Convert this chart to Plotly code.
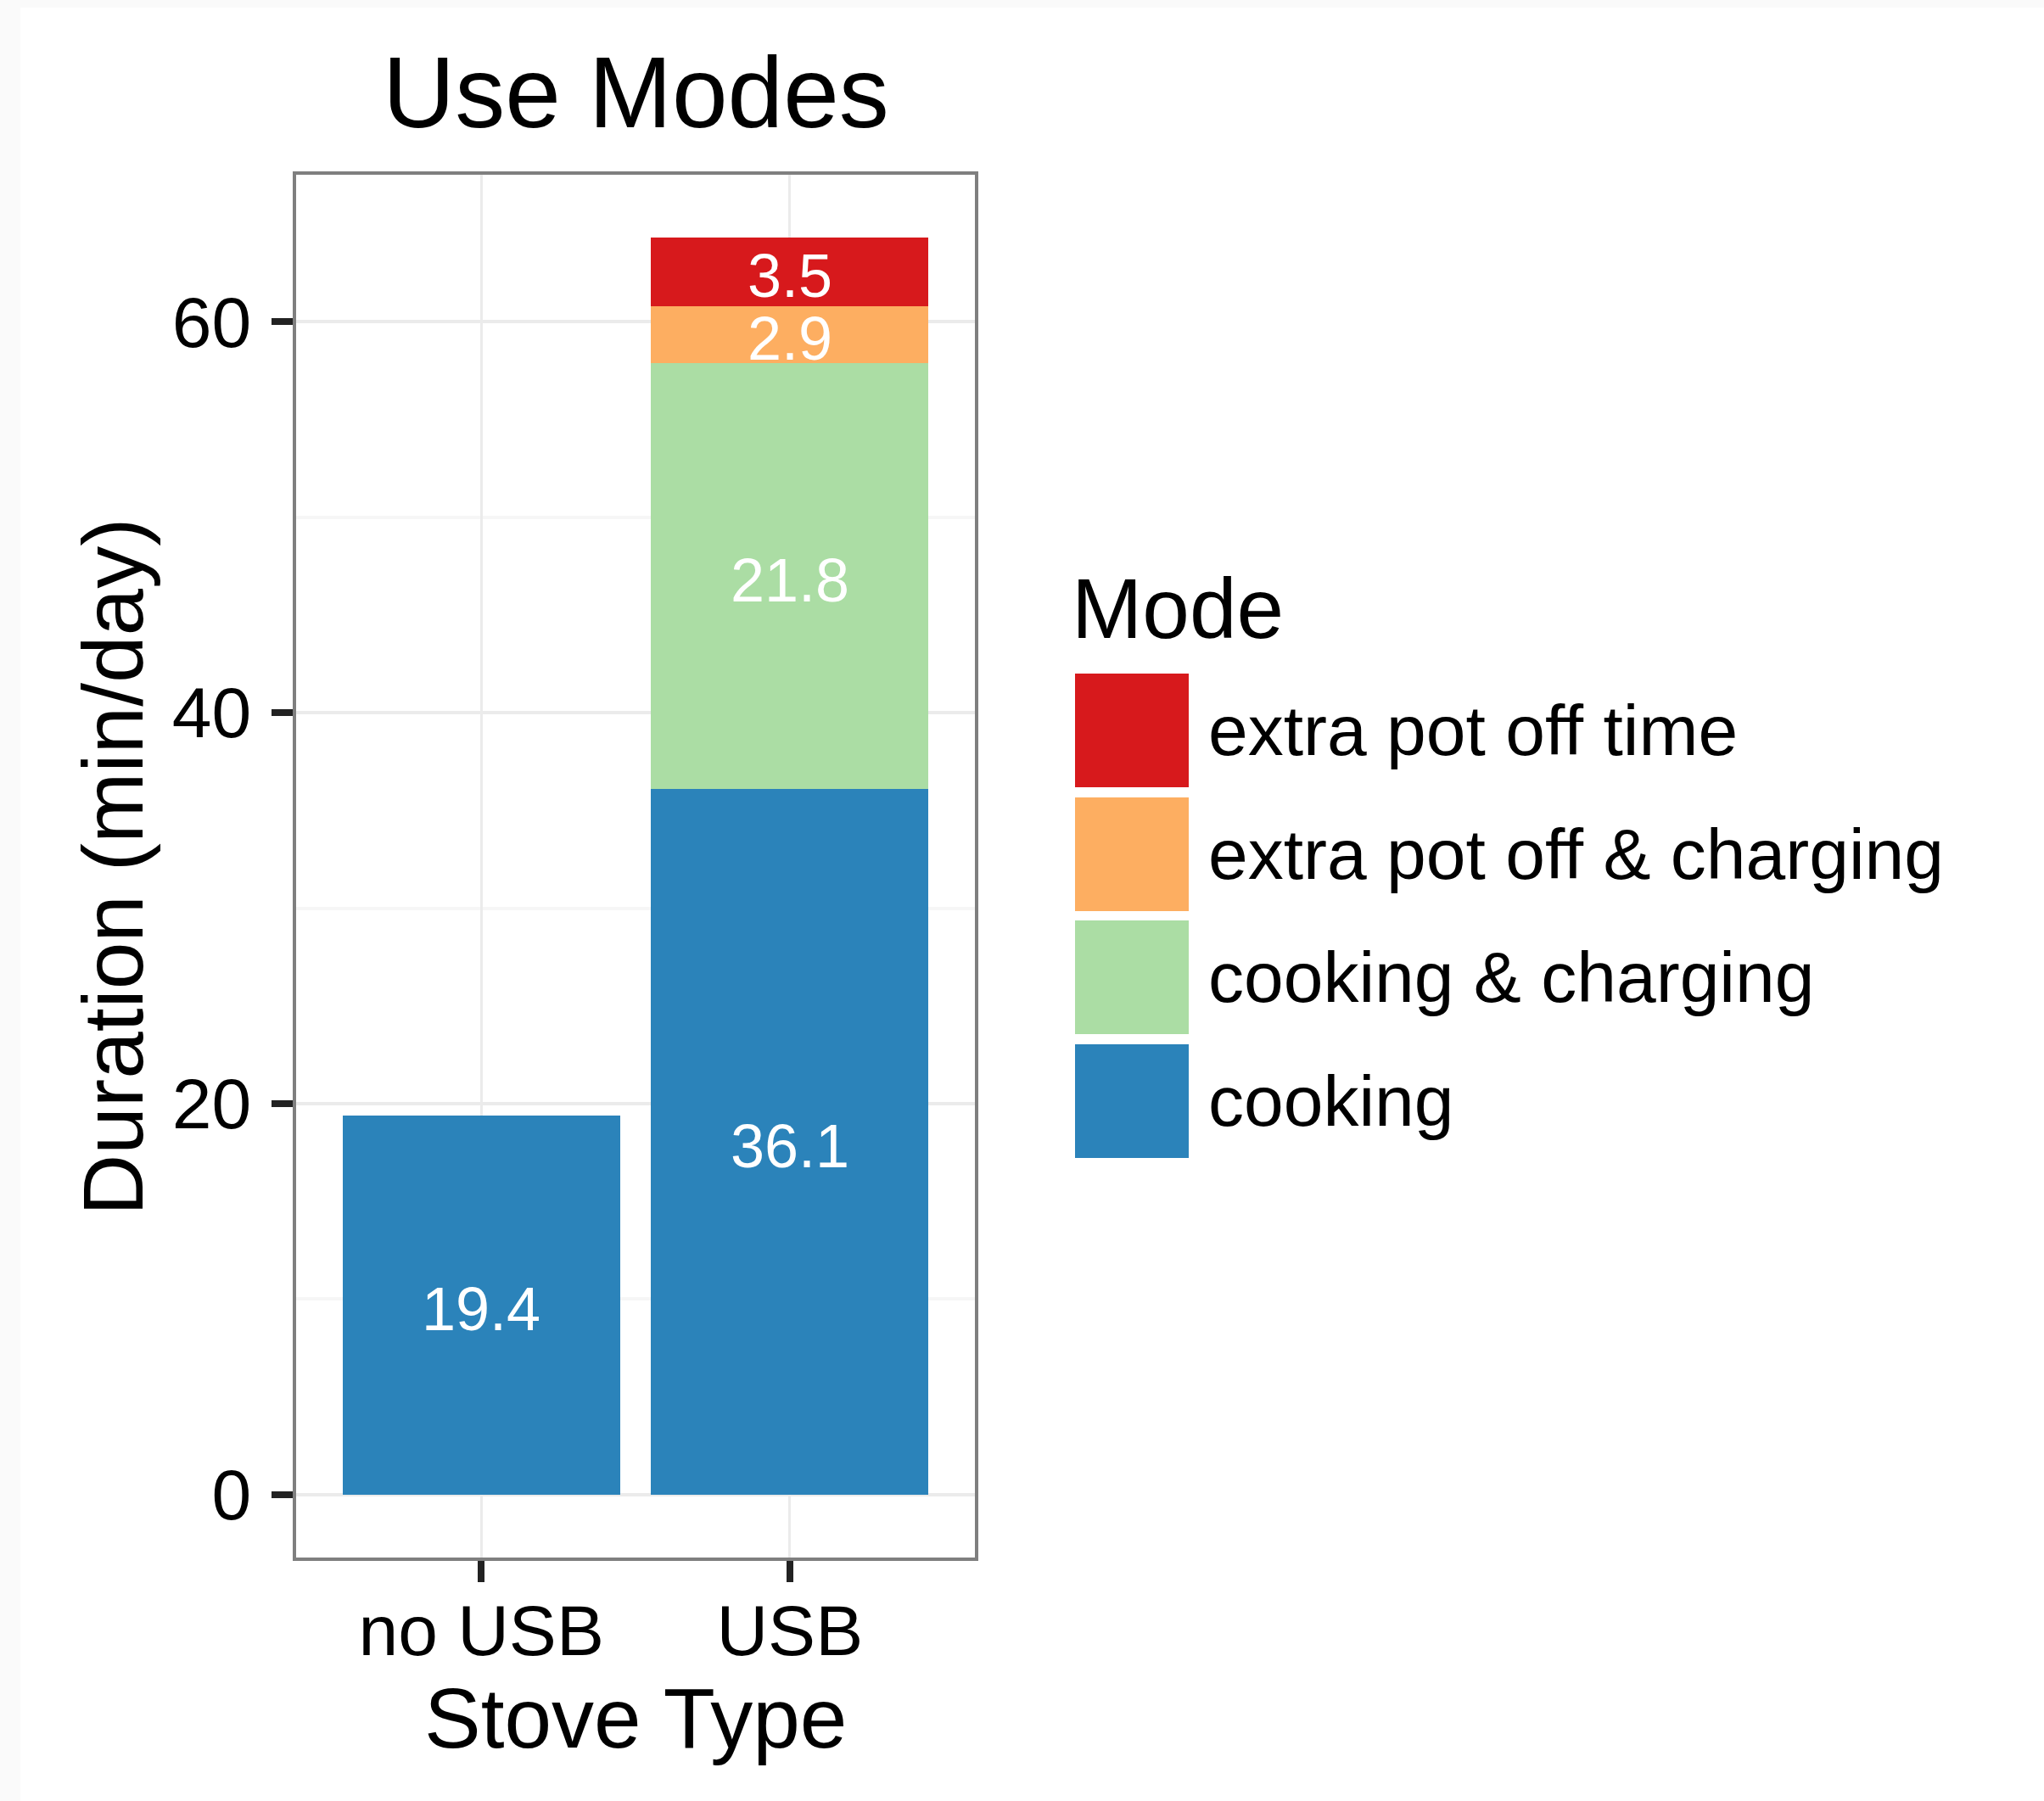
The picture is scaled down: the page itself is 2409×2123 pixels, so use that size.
import plotly.graph_objects as go

# ---------------- data ----------------
stove_types = ["no USB", "USB"]
modes = ["cooking", "cooking & charging", "extra pot off & charging", "extra pot off time"]
cooking = [19.4, 36.1]
cooking_charging = [0, 21.8]
extra_pot_off_charging = [0, 2.9]
extra_pot_off_time = [0, 3.5]
mode_colors = ["#2b83ba", "#abdda4", "#fdae61", "#d7191c"]
y_ticks = [0, 20, 40, 60]
y_minor = [10, 30, 50]

series = [cooking, cooking_charging, extra_pot_off_charging, extra_pot_off_time]

# ---------------- geometry (pixels) ----------------
W, H = 2409, 2123
PL, PR, PT, PB = 349, 1149, 206, 1836  # panel edges
PW, PH = PR - PL, PB - PT


def px_x(px):
    return (px - PL) / PW


def px_y(py):
    return (PB - py) / PH


FONT = "Liberation Sans, Arial, Helvetica, sans-serif"

fig = go.Figure()
for name, vals, col in zip(modes, series, mode_colors):
    fig.add_trace(go.Bar(
        x=stove_types,
        y=[v if v else None for v in vals],
        name=name,
        marker=dict(color=col, line=dict(width=0)),
        showlegend=False,
        hoverinfo="x+y+name",
    ))

# value labels centred in each stacked segment
annotations = []
for i, st in enumerate(stove_types):
    base = 0.0
    for vals in series:
        v = vals[i]
        if v:
            annotations.append(dict(
                x=st, y=base + v / 2, xref="x", yref="y", text=f"{v:.1f}",
                showarrow=False, font=dict(family=FONT, size=72, color="white"),
                xanchor="center", yanchor="middle", yshift=-5))
        base += v

total_max = max(sum(s[i] for s in series) for i in range(len(stove_types)))
pad = 0.05 * total_max

# title & axis titles
annotations.append(dict(text="Use Modes", x=0.5, y=px_y(109), xref="paper", yref="paper",
                        showarrow=False, xanchor="center", yanchor="middle",
                        font=dict(family=FONT, size=118, color="black")))
annotations.append(dict(text="Stove Type", x=0.5, y=px_y(2025), xref="paper", yref="paper",
                        showarrow=False, xanchor="center", yanchor="middle",
                        font=dict(family=FONT, size=100, color="black")))
annotations.append(dict(text="Duration (min/day)", x=px_x(133), y=px_y(1022), xref="paper", yref="paper",
                        showarrow=False, xanchor="center", yanchor="middle", textangle=-90,
                        font=dict(family=FONT, size=100, color="black")))

# custom legend
annotations.append(dict(text="Mode", x=px_x(1261), y=px_y(717), xref="paper", yref="paper",
                        showarrow=False, xanchor="left", yanchor="middle",
                        font=dict(family=FONT, size=100, color="black")))
shapes = [dict(type="rect", xref="paper", yref="paper", x0=px_x(24), x1=px_x(W), y0=px_y(H), y1=px_y(9),
               fillcolor="white", line=dict(width=0), layer="below")]
key_centres = [861, 1007, 1152, 1298]
for k, (name, col) in enumerate(zip(modes[::-1], mode_colors[::-1])):
    cy = key_centres[k]
    shapes.append(dict(type="rect", xref="paper", yref="paper",
                       x0=px_x(1267), x1=px_x(1401), y0=px_y(cy + 67), y1=px_y(cy - 67),
                       fillcolor=col, line=dict(width=0)))
    annotations.append(dict(text=name, x=px_x(1422), y=px_y(cy), xref="paper", yref="paper",
                            showarrow=False, xanchor="left", yanchor="middle",
                            font=dict(family=FONT, size=84, color="black")))

fig.update_layout(
    width=W, height=H, autosize=False,
    margin=dict(l=PL, r=W - PR, t=PT, b=H - PB, pad=0),
    paper_bgcolor="#fafafa", plot_bgcolor="white",
    barmode="stack", bargap=0.1,
    showlegend=False,
    font=dict(family=FONT, color="black"),
    annotations=annotations, shapes=shapes,
)
fig.update_xaxes(
    type="category", range=[-0.6, 1.6],
    showgrid=True, gridcolor="#ebebeb", gridwidth=3,
    ticks="outside", ticklen=25, tickwidth=8, tickcolor="#222222",
    tickfont=dict(family=FONT, size=84, color="black"),
    ticklabelstandoff=-15,
    showline=True, linecolor="#7f7f7f", linewidth=4, mirror=True, zeroline=False,
)
fig.update_yaxes(
    range=[-pad, total_max + pad],
    tickvals=y_ticks, ticktext=[str(t) for t in y_ticks],
    showgrid=True, gridcolor="#ebebeb", gridwidth=4,
    minor=dict(tickvals=y_minor, showgrid=True, gridcolor="#f6f6f6", gridwidth=4, ticks=""),
    ticks="outside", ticklen=25, tickwidth=8, tickcolor="#222222",
    tickfont=dict(family=FONT, size=84, color="black"),
    ticklabelstandoff=7,
    showline=True, linecolor="#7f7f7f", linewidth=4, mirror=True, zeroline=False,
)

fig.write_html("out.html", config={"displayModeBar": False},
               post_script="document.body.style.margin='0';")
